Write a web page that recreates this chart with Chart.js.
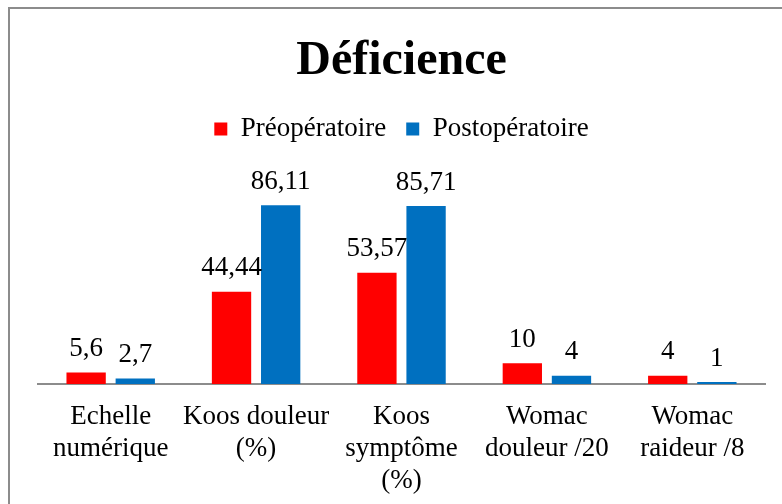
<!DOCTYPE html>
<html>
<head>
<meta charset="utf-8">
<script src="https://cdn.jsdelivr.net/npm/chart.js@4.4.0/dist/chart.umd.min.js"></script>
<style>
  html, body { margin: 0; padding: 0; background: #fff; overflow: hidden; }
  #cadre {
    position: absolute; left: 8px; top: 7px; width: 800px; height: 520px;
    border-top: 2px solid #8c8c8c; border-left: 2px solid #8c8c8c;
  }
  #wrap { position: absolute; left: 0; top: 0; width: 782px; height: 504px; }
</style>
</head>
<body>
<div id="cadre"></div>
<div id="wrap"><canvas id="myChart" width="782" height="504"></canvas></div>
<script>
const categories = [
  ["Echelle", "numérique"],
  ["Koos douleur", "(%)"],
  ["Koos", "symptôme", "(%)"],
  ["Womac", "douleur /20"],
  ["Womac", "raideur /8"]
];
const preop = [5.6, 44.44, 53.57, 10, 4];
const postop = [2.7, 86.11, 85.71, 4, 1];
const seriesNames = ["Préopératoire", "Postopératoire"];

const police = "'Liberation Serif', 'Times New Roman', serif";

// valeurs au-dessus des barres, virgule décimale
const etiquettes = {
  id: "etiquettes",
  afterDatasetsDraw(chart) {
    const ctx = chart.ctx;
    ctx.save();
    ctx.font = "27px " + police;
    ctx.fillStyle = "#000";
    ctx.textAlign = "center";
    ctx.textBaseline = "bottom";
    chart.data.datasets.forEach((ds, i) => {
      chart.getDatasetMeta(i).data.forEach((bar, j) => {
        const txt = String(ds.data[j]).replace(".", ",");
        ctx.fillText(txt, bar.x, bar.y - 10);
      });
    });
    ctx.restore();
  }
};

const config = {
  type: "bar",
  data: {
    labels: categories,
    datasets: [
      { label: seriesNames[0], data: preop, backgroundColor: "#ff0000" },
      { label: seriesNames[1], data: postop, backgroundColor: "#0070c0" }
    ]
  },
  options: {
    responsive: false,
    animation: false,
    layout: { padding: { left: 38, right: 17, top: 8, bottom: -2 } },
    datasets: { bar: { categoryPercentage: 0.676, barPercentage: 0.8 } },
    plugins: {
      title: {
        display: true,
        text: "Déficience",
        color: "#000",
        font: { family: police, size: 48, weight: "bold" },
        padding: { top: 25, bottom: 5 }
      },
      legend: {
        display: true,
        labels: {
          color: "#000",
          font: { family: police, size: 27 },
          boxWidth: 13,
          boxHeight: 13,
          padding: 20
        }
      },
      tooltip: { enabled: false }
    },
    scales: {
      x: {
        grid: { display: false },
        border: { display: true, color: "#8c8c8c", width: 2 },
        ticks: {
          color: "#000",
          font: { family: police, size: 27, lineHeight: 1.185 },
          maxRotation: 0,
          autoSkip: false,
          padding: 9
        }
      },
      y: {
        display: false,
        min: 0,
        max: 111.4
      }
    }
  },
  plugins: [etiquettes]
};

new Chart(document.querySelector("#myChart"), config);
</script>
</body>
</html>
